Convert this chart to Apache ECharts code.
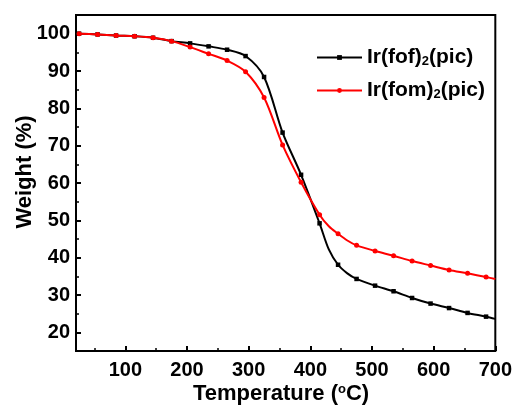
<!DOCTYPE html>
<html>
<head>
<meta charset="utf-8">
<script src="https://cdn.jsdelivr.net/npm/echarts@6/dist/echarts.min.js"></script>
<style>
  html, body { margin: 0; padding: 0; background: #fff; }
  #chart { width: 515px; height: 407px; }
</style>
</head>
<body>
<div id="chart"></div>
<script>
// TGA curves: temperature (°C) vs. weight (%)
const markerTemps = [25, 55, 85, 115, 145, 175, 205, 235, 265, 295, 325, 355, 385, 415, 445, 475, 505, 535, 565, 595, 625, 655, 685];
const fofWeight = [100.0, 99.8, 99.5, 99.3, 98.9, 98.0, 97.4, 96.6, 95.7, 94.0, 88.4, 73.5, 62.2, 49.2, 38.1, 34.3, 32.5, 31.0, 29.2, 27.7, 26.5, 25.2, 24.2];
const fomWeight = [100.0, 99.8, 99.5, 99.3, 98.9, 98.0, 96.4, 94.6, 92.8, 89.8, 82.9, 70.2, 60.2, 51.5, 46.4, 43.3, 41.8, 40.5, 39.1, 37.9, 36.7, 35.8, 34.8];

// points on the curves between the markers (no symbol drawn)
const curveTemps = [430, 460, 700];
const fofCurve = [42.2, 35.8, 23.6];
const fomCurve = [48.4, 44.6, 34.3];

const xMajor = [100, 200, 300, 400, 500, 600, 700];
const xMinor = [50, 150, 250, 350, 450, 550, 650];
const yMajor = [20, 30, 40, 50, 60, 70, 80, 90, 100];
const yMinor = [25, 35, 45, 55, 65, 75, 85, 95];

const seriesNames = ['Ir(fof)2(pic)', 'Ir(fom)2(pic)'];

function buildData(temps, vals, extraT, extraV) {
  const pts = temps.map((t, i) => ({ value: [t, vals[i]] }));
  extraT.forEach((t, i) => pts.push({ value: [t, extraV[i]], symbol: 'none' }));
  pts.sort((a, b) => a.value[0] - b.value[0]);
  return pts;
}

const FONT = '"Liberation Sans", Arial, sans-serif';
const grid = { left: 76, right: 18, top: 15, bottom: 56 };

const chart = echarts.init(document.getElementById('chart'), null, { renderer: 'canvas' });

const baseX = {
  type: 'value', min: 20, max: 700, gridIndex: 0,
  axisLine: { show: false },
  splitLine: { show: false }
};
const baseY = {
  type: 'value', min: 15, max: 105, gridIndex: 0,
  axisLine: { show: false },
  splitLine: { show: false }
};

chart.setOption({
  animation: false,
  backgroundColor: '#fff',
  grid: Object.assign({ show: true, borderColor: '#000', borderWidth: 2, backgroundColor: 'transparent' }, grid),
  xAxis: [
    Object.assign({}, baseX, {
      position: 'bottom',
      axisTick: { show: true, inside: true, length: 5, lineStyle: { color: '#000', width: 2 }, customValues: xMajor },
      axisLabel: { show: true, customValues: xMajor, margin: 9, color: '#000', fontFamily: FONT, fontWeight: 'bold', fontSize: 20 }
    }),
    Object.assign({}, baseX, {
      position: 'bottom',
      axisTick: { show: true, inside: true, length: 3, lineStyle: { color: '#000', width: 1.5 }, customValues: xMinor },
      axisLabel: { show: false }
    })
  ],
  yAxis: [
    Object.assign({}, baseY, {
      position: 'left',
      axisTick: { show: true, inside: true, length: 5, lineStyle: { color: '#000', width: 2 }, customValues: yMajor },
      axisLabel: { show: true, customValues: yMajor, margin: 6, color: '#000', fontFamily: FONT, fontWeight: 'bold', fontSize: 20 }
    }),
    Object.assign({}, baseY, {
      position: 'left',
      axisTick: { show: true, inside: true, length: 3, lineStyle: { color: '#000', width: 1.5 }, customValues: yMinor },
      axisLabel: { show: false }
    })
  ],
  legend: {
    orient: 'vertical',
    left: 316,
    top: 47,
    padding: 0,
    itemWidth: 45,
    itemHeight: 6,
    itemGap: 12,
    data: seriesNames,
    formatter: function (name) {
      const m = name.match(/^(.*?\))2(\(.*)$/);
      return '{a|' + m[1] + '}{s|2}{a|' + m[2] + '}';
    },
    textStyle: {
      color: '#000',
      padding: [0, 0, 0, 0],
      rich: {
        a: { fontFamily: FONT, fontWeight: 'bold', fontSize: 21, color: '#000', lineHeight: 20 },
        s: { fontFamily: FONT, fontWeight: 'bold', fontSize: 13, color: '#000', lineHeight: 8, verticalAlign: 'bottom' }
      }
    }
  },
  graphic: [
    {
      type: 'text',
      x: 281, y: 394,
      style: {
        text: '{a|Temperature (}{o|o}{a|C)}',
        align: 'center', verticalAlign: 'middle',
        rich: {
          a: { fontFamily: FONT, fontWeight: 'bold', fontSize: 22, fill: '#000', lineHeight: 22 },
          o: { fontFamily: FONT, fontWeight: 'bold', fontSize: 13, fill: '#000', lineHeight: 12, verticalAlign: 'top' }
        }
      }
    },
    {
      type: 'text',
      x: 25, y: 172,
      rotation: Math.PI / 2,
      style: {
        text: 'Weight (%)',
        align: 'center', verticalAlign: 'middle',
        fontFamily: FONT, fontWeight: 'bold', fontSize: 22, fill: '#000'
      }
    }
  ],
  series: [
    {
      name: seriesNames[0],
      type: 'line',
      xAxisIndex: 0, yAxisIndex: 0,
      smooth: 0.3,
      symbol: 'rect', symbolSize: 4.5,
      lineStyle: { color: '#000', width: 2 },
      itemStyle: { color: '#000' },
      data: buildData(markerTemps, fofWeight, curveTemps, fofCurve),
      z: 3
    },
    {
      name: seriesNames[1],
      type: 'line',
      xAxisIndex: 0, yAxisIndex: 0,
      smooth: 0.3,
      symbol: 'circle', symbolSize: 5,
      lineStyle: { color: '#ff0000', width: 2 },
      itemStyle: { color: '#ff0000' },
      data: buildData(markerTemps, fomWeight, curveTemps, fomCurve),
      z: 4
    }
  ]
});
</script>
</body>
</html>
